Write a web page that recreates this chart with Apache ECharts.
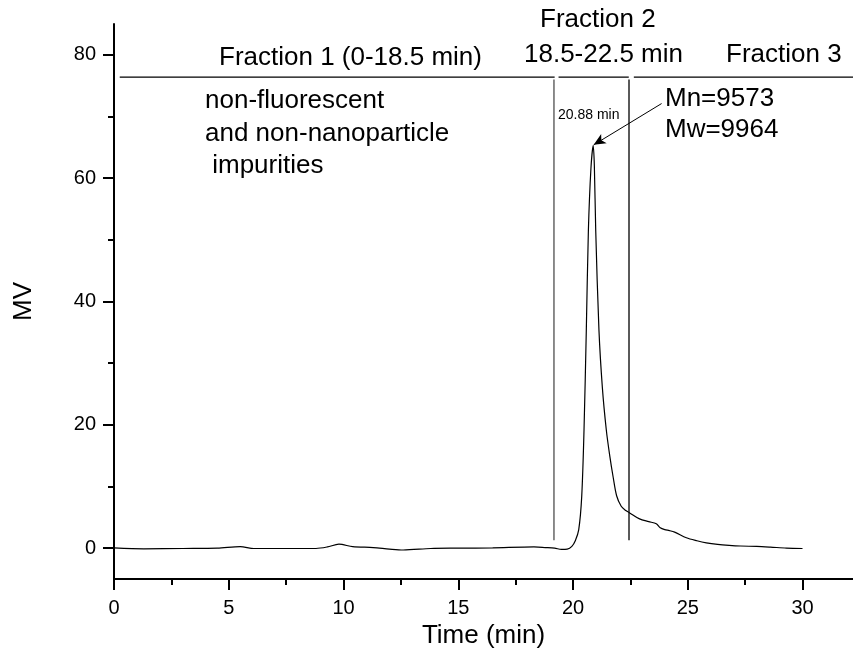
<!DOCTYPE html>
<html>
<head>
<meta charset="utf-8">
<script src="https://cdn.jsdelivr.net/npm/echarts@6/dist/echarts.min.js"></script>
<style>
  html, body { margin: 0; padding: 0; background: #fff; }
  #chart { width: 853px; height: 664px; }
</style>
</head>
<body>
<div id="chart"></div>
<script>
// chromatogram
var times = [0, 1.3, 3, 4.5, 5.5, 6.1, 7.5, 8.8, 9.3, 9.8, 10.4, 11.3, 12.0, 12.6, 13.8, 15, 16.5, 18.3, 18.8, 19.2,
  19.5, 19.75, 19.95, 20.1, 20.25, 20.38, 20.48, 20.58, 20.67, 20.78, 20.88, 20.93, 20.99, 21.13, 21.28, 21.45, 21.6,
  21.75, 21.9, 22.1, 22.3, 22.44, 22.9, 23.3, 23.63, 23.8, 24.0, 24.2, 24.43, 24.94, 25.4, 25.81, 26.3, 26.8, 27.3,
  28.0, 28.6, 29.3, 30.0];
var mv = [0.05, -0.1, -0.05, 0, 0.25, -0.05, -0.05, -0.05, 0.2, 0.65, 0.25, 0.1, -0.15, -0.3, -0.05, 0, 0.05, 0.2, 0.1, 0.0,
  -0.2, -0.15, 0.3, 1.2, 3.0, 8.4, 19.2, 35.4, 51.5, 61.5, 65.3, 62, 51.5, 35.4, 26, 19.2, 15,
  11.5, 8.5, 6.8, 6.1, 5.8, 4.75, 4.3, 3.95, 3.3, 3.0, 2.85, 2.6, 1.68, 1.2, 0.87, 0.62, 0.46, 0.35,
  0.28, 0.17, 0.02, -0.05];

var xTicks = [0, 5, 10, 15, 20, 25, 30];
var xMinor = [2.5, 7.5, 12.5, 17.5, 22.5, 27.5];
var yTicks = [0, 20, 40, 60, 80];
var yMinor = [10, 30, 50, 70];

// fraction dividers
var headerY = 76.4;
var headerSegments = [[0.25, 19.2], [19.37, 22.43], [22.65, 32.2]];
var dividerGray = 19.17;
var dividerBlack = 22.44;
var dividerRange = [1.3, 76];
var arrowFrom = [23.86, 72.1];
var arrowTo = [20.9, 65.4];

var curve = times.map(function (t, i) { return [t, mv[i]]; });

var headerData = [];
headerSegments.forEach(function (s, i) {
  if (i > 0) headerData.push([null, null]);
  headerData.push([s[0], headerY], [s[1], headerY]);
});

var chartDom = document.getElementById('chart');
var myChart = echarts.init(chartDom);
var font = '"Liberation Sans", Arial, sans-serif';
var bigText = { fontFamily: font, fontSize: 26, fill: '#000' };

var option = {
  animation: false,
  backgroundColor: '#fff',
  grid: { left: 114, right: 0, top: 24, bottom: 85 },
  xAxis: [{
    type: 'value', min: 0, max: 32.2,
    name: 'Time (min)', nameLocation: 'middle', nameGap: 36,
    nameTextStyle: { fontFamily: font, fontSize: 26, color: '#000' },
    splitLine: { show: false },
    axisLine: { onZero: false, lineStyle: { color: '#000', width: 2 } },
    axisTick: { customValues: xTicks, length: 11, lineStyle: { color: '#000', width: 2 } },
    axisLabel: { customValues: xTicks, margin: 19, fontFamily: font, fontSize: 20, color: '#000' }
  }, {
    type: 'value', min: 0, max: 32.2, position: 'bottom',
    splitLine: { show: false },
    axisLine: { show: false, onZero: false },
    axisTick: { customValues: xMinor, length: 6, lineStyle: { color: '#000', width: 2 } },
    axisLabel: { show: false }
  }],
  yAxis: [{
    type: 'value', min: -5, max: 85,
    name: 'MV', nameLocation: 'middle', nameGap: 77,
    nameTextStyle: { fontFamily: font, fontSize: 26, color: '#000' },
    splitLine: { show: false },
    axisLine: { onZero: false, lineStyle: { color: '#000', width: 2 } },
    axisTick: { customValues: yTicks, length: 11, lineStyle: { color: '#000', width: 2 } },
    axisLabel: { customValues: yTicks, margin: 18, fontFamily: font, fontSize: 20, color: '#000' }
  }, {
    type: 'value', min: -5, max: 85, position: 'left',
    splitLine: { show: false },
    axisLine: { show: false, onZero: false },
    axisTick: { customValues: yMinor, length: 6, lineStyle: { color: '#000', width: 2 } },
    axisLabel: { show: false }
  }],
  series: [
    {
      type: 'line',
      data: curve,
      smooth: 0.3,
      showSymbol: false,
      lineStyle: { color: '#000', width: 1.2 },
      markLine: {
        silent: true,
        symbol: ['none', 'arrow'],
        symbolSize: [8, 12],
        label: { show: false },
        lineStyle: { color: '#000', width: 1, type: 'solid' },
        data: [[{ coord: arrowFrom }, { coord: arrowTo }]]
      }
    },
    {
      type: 'line',
      data: headerData,
      showSymbol: false,
      connectNulls: false,
      lineStyle: { color: '#000', width: 1.3 }
    },
    {
      type: 'line',
      data: [[dividerGray, dividerRange[0]], [dividerGray, dividerRange[1]]],
      showSymbol: false,
      lineStyle: { color: '#666', width: 1.5 }
    },
    {
      type: 'line',
      data: [[dividerBlack, dividerRange[0]], [dividerBlack, dividerRange[1]]],
      showSymbol: false,
      lineStyle: { color: '#000', width: 1.3 }
    }
  ],
  graphic: [
    { type: 'text', left: 219, top: 45, style: Object.assign({ text: 'Fraction 1 (0-18.5 min)' }, bigText) },
    { type: 'text', left: 540, top: 7, style: Object.assign({ text: 'Fraction 2' }, bigText) },
    { type: 'text', left: 524, top: 42, style: Object.assign({ text: '18.5-22.5 min' }, bigText) },
    { type: 'text', left: 726, top: 42, style: Object.assign({ text: 'Fraction 3' }, bigText) },
    { type: 'text', left: 205, top: 88, style: Object.assign({ text: 'non-fluorescent' }, bigText) },
    { type: 'text', left: 205, top: 121, style: Object.assign({ text: 'and non-nanoparticle' }, bigText) },
    { type: 'text', left: 205, top: 153, style: Object.assign({ text: ' impurities' }, bigText) },
    { type: 'text', left: 665, top: 86, style: Object.assign({ text: 'Mn=9573' }, bigText) },
    { type: 'text', left: 665, top: 117, style: Object.assign({ text: 'Mw=9964' }, bigText) },
    { type: 'text', left: 558, top: 108, style: { text: '20.88 min', fontFamily: font, fontSize: 14, fill: '#000' } }
  ]
};
option && myChart.setOption(option);
</script>
</body>
</html>
